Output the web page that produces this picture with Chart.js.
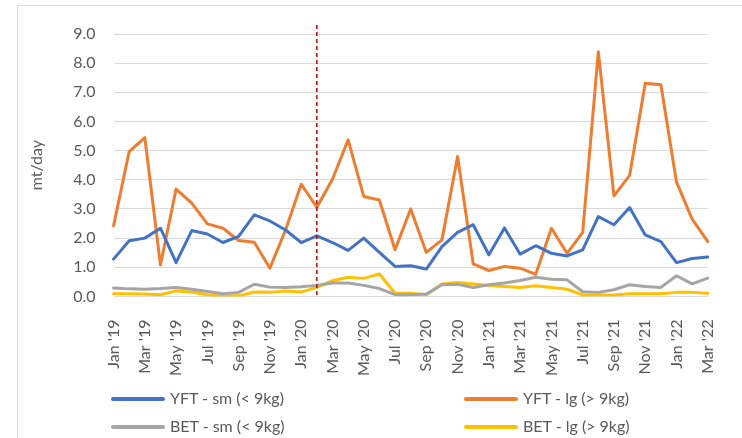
<!DOCTYPE html>
<html>
<head>
<meta charset="utf-8">
<script src="https://cdn.jsdelivr.net/npm/chart.js@4.4.1/dist/chart.umd.min.js"></script>
<style>
    html, body { margin: 0; padding: 0; background: #fff; }
    #wrap { position: relative; width: 742px; height: 438px; overflow: hidden; }
    #frame { position: absolute; left: 17px; top: 5px; width: 800px; height: 500px;
             border-left: 1px solid #d9d9d9; border-top: 1px solid #d9d9d9; }
    #myChart { position: absolute; left: 0; top: 0; }
    #legend { position: absolute; left: 0; top: 386px; width: 742px;
              font-family: Lato, "Open Sans", sans-serif; font-size: 16px; color: #595959; }
    .item { position: absolute; height: 24px; line-height: 24px; white-space: nowrap; }
    .item span { display: inline-block; width: 54px; height: 4px; border-radius: 2px;
                 vertical-align: middle; margin-right: 5px; position: relative; top: -1px; }
</style>
</head>
<body>
<div id="wrap">
    <div id="frame"></div>
    <canvas id="myChart" width="742" height="438"></canvas>
    <div id="legend"></div>
</div>
<script>
const months = ["Jan '19", "Feb '19", "Mar '19", "Apr '19", "May '19", "Jun '19", "Jul '19", "Aug '19", "Sep '19", "Oct '19", "Nov '19", "Dec '19",
    "Jan '20", "Feb '20", "Mar '20", "Apr '20", "May '20", "Jun '20", "Jul '20", "Aug '20", "Sep '20", "Oct '20", "Nov '20", "Dec '20",
    "Jan '21", "Feb '21", "Mar '21", "Apr '21", "May '21", "Jun '21", "Jul '21", "Aug '21", "Sep '21", "Oct '21", "Nov '21", "Dec '21",
    "Jan '22", "Feb '22", "Mar '22"];

const yftSm = [1.28, 1.91, 2.00, 2.34, 1.16, 2.26, 2.14, 1.85, 2.06, 2.80, 2.59, 2.28, 1.85, 2.08, 1.85, 1.58, 2.00, 1.51, 1.03, 1.05,
    0.94, 1.71, 2.20, 2.46, 1.43, 2.35, 1.45, 1.74, 1.48, 1.39, 1.60, 2.74, 2.46, 3.05, 2.11, 1.88, 1.16, 1.30, 1.35];
const yftLg = [2.42, 4.97, 5.45, 1.08, 3.68, 3.20, 2.49, 2.34, 1.92, 1.86, 0.97, 2.28, 3.85, 3.06, 4.02, 5.37, 3.43, 3.31, 1.60, 3.00,
    1.51, 1.94, 4.80, 1.12, 0.89, 1.03, 0.97, 0.76, 2.34, 1.48, 2.20, 8.39, 3.45, 4.15, 7.31, 7.26, 3.92, 2.65, 1.88];
const betSm = [0.29, 0.26, 0.25, 0.27, 0.31, 0.25, 0.17, 0.09, 0.14, 0.42, 0.32, 0.31, 0.33, 0.38, 0.46, 0.46, 0.38, 0.27, 0.06, 0.06,
    0.08, 0.40, 0.42, 0.31, 0.40, 0.46, 0.55, 0.66, 0.59, 0.57, 0.16, 0.14, 0.23, 0.40, 0.34, 0.31, 0.71, 0.43, 0.63];
const betLg = [0.09, 0.09, 0.08, 0.06, 0.19, 0.15, 0.06, 0.02, 0.02, 0.15, 0.14, 0.19, 0.15, 0.31, 0.54, 0.66, 0.62, 0.77, 0.11, 0.11,
    0.06, 0.43, 0.48, 0.43, 0.38, 0.34, 0.31, 0.37, 0.31, 0.25, 0.05, 0.05, 0.05, 0.09, 0.09, 0.09, 0.14, 0.14, 0.11];

const seriesNames = ['YFT - sm (< 9kg)', 'YFT - lg (> 9kg)', 'BET - sm (< 9kg)', 'BET - lg (> 9kg)'];
const seriesColors = ['#4472C4', '#ED7D31', '#A5A5A5', '#FFC000'];
const markerMonth = "Feb '20";   // dashed divider
const yTicks = [0, 9, 1];       // min, max, step

const tickFont = { family: 'Lato', size: 16 };

// dashed vertical line at the marker month
const dividerLine = {
    id: 'dividerLine',
    afterDatasetsDraw(chart) {
        const x = chart.scales.x.getPixelForValue(months.indexOf(markerMonth));
        const { top, bottom } = chart.chartArea;
        const c = chart.ctx;
        c.save();
        c.strokeStyle = '#C00000';
        c.lineWidth = 1.5;
        c.setLineDash([4, 3]);
        c.beginPath();
        c.moveTo(x, top - 9);
        c.lineTo(x, bottom);
        c.stroke();
        c.restore();
    }
};

let ctx = document.getElementById('myChart');
let myChart = new Chart(ctx, {
    type: 'line',
    data: {
        labels: months,
        datasets: [yftSm, yftLg, betSm, betLg].map((d, i) => ({
            label: seriesNames[i],
            data: d,
            borderColor: seriesColors[i],
            backgroundColor: seriesColors[i],
            borderWidth: 3,
            pointRadius: 0,
            tension: 0,
            borderJoinStyle: 'round',
            borderCapStyle: 'round'
        }))
    },
    options: {
        responsive: false,
        animation: false,
        layout: {
            padding: { left: 24, right: 25, top: 34, bottom: 47 }
        },
        scales: {
            x: {
                grid: { display: false },
                border: { display: false },
                ticks: {
                    autoSkip: false,
                    minRotation: 90,
                    maxRotation: 90,
                    padding: 15,
                    color: '#595959',
                    font: tickFont,
                    callback: function (v, i) {
                        return i % 2 === 0 ? months[i] : '';
                    }
                }
            },
            y: {
                min: yTicks[0],
                max: yTicks[1],
                border: { display: false },
                grid: { color: '#d9d9d9', lineWidth: 1, drawTicks: false },
                ticks: {
                    stepSize: yTicks[2],
                    padding: 18,
                    color: '#595959',
                    font: tickFont,
                    callback: v => v.toFixed(1)
                },
                title: {
                    display: true,
                    text: 'mt/day',
                    color: '#595959',
                    font: tickFont,
                    padding: { top: 3, bottom: 9 }
                }
            }
        },
        plugins: {
            legend: { display: false },
            tooltip: { enabled: false }
        }
    },
    plugins: [dividerLine]
});

// legend in two columns, like the source
const legendPos = [[111, 0], [464, 0], [111, 28], [464, 28]];
const legendBox = document.getElementById('legend');
myChart.data.datasets.forEach((ds, i) => {
    const el = document.createElement('div');
    el.className = 'item';
    el.style.left = legendPos[i][0] + 'px';
    el.style.top = legendPos[i][1] + 'px';
    el.innerHTML = '<span style="background:' + ds.borderColor + '"></span>' + ds.label;
    legendBox.appendChild(el);
});
</script>
</body>
</html>
